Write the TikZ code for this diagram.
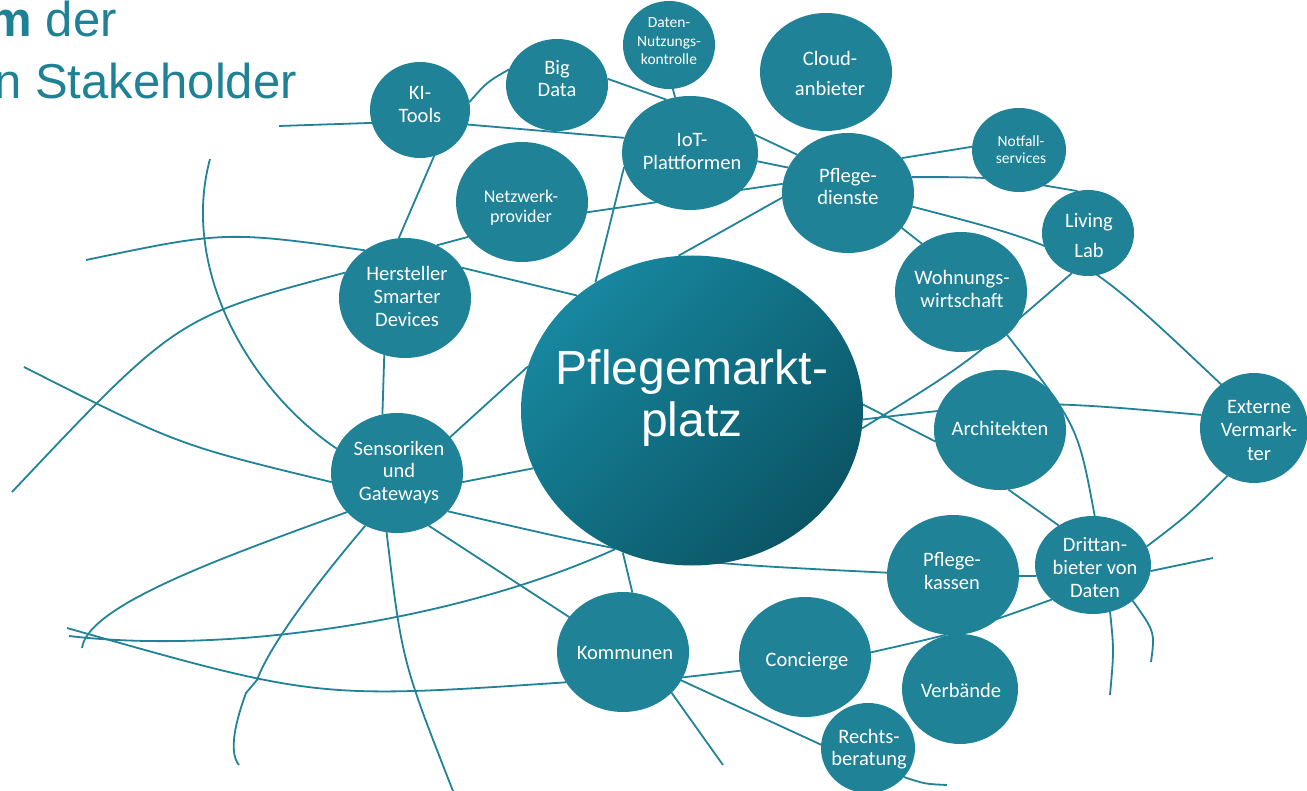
\documentclass[tikz,border=0pt]{standalone}
\usepackage{fontspec}
\setmainfont{Carlito}
\newfontfamily\arialf{Liberation Sans}
\usetikzlibrary{shapes.geometric,backgrounds}
\definecolor{nodefill}{HTML}{208296}
\definecolor{linecol}{HTML}{218398}
\definecolor{titlecol}{HTML}{1F8196}
\definecolor{mainA}{HTML}{17879F}
\definecolor{mainB}{HTML}{0B5565}
\tikzset{
  bub/.style={ellipse, fill=nodefill, inner sep=0pt, outer sep=0pt},
  lbl/.style={text=white, align=center, inner sep=0pt, font=\fontsize{20.5}{23}\selectfont},
  conn/.style={draw=linecol, line width=1.8pt},
  ttl/.style={anchor=base east, inner sep=0pt, text=titlecol, font=\arialf\fontsize{49}{49}\selectfont},
}
\begin{document}
\begin{tikzpicture}[x=1pt, y=-1pt]
\useasboundingbox (0,0) rectangle (1307,791);

% title
\node[ttl] (t1) at (117,37) {\textbf{m} der};
\node[ttl] (t2) at (297,99) {n Stakeholder};

% bubbles
\node[bub, minimum width=100pt, minimum height=96pt] (ki) at (420,110) {};
\node[bub, minimum width=102pt, minimum height=92pt] (bigdata) at (557,85) {};
\node[bub, minimum width=92pt, minimum height=88pt] (daten) at (669,45) {};
\node[bub, minimum width=132pt, minimum height=118pt] (cloud) at (826,72) {};
\node[bub, minimum width=136pt, minimum height=114pt] (iot) at (690,153) {};
\node[bub, minimum width=132pt, minimum height=120pt] (netz) at (522,202) {};
\node[bub, minimum width=132pt, minimum height=120pt] (pflege) at (848,193) {};
\node[bub, minimum width=94pt, minimum height=84pt] (notfall) at (1019,150) {};
\node[bub, minimum width=92pt, minimum height=86pt] (living) at (1088,233) {};
\node[bub, minimum width=132pt, minimum height=120pt] (wohn) at (961,292) {};
\node[bub, minimum width=132pt, minimum height=120pt] (herst) at (405,298) {};
\node[bub, minimum width=132pt, minimum height=120pt] (sens) at (397,473) {};
\node[ellipse, inner sep=0pt, minimum width=342pt, minimum height=310pt,
      top color=mainA, bottom color=mainB, shading angle=45] (main) at (692,410.5) {};
\node[bub, minimum width=132pt, minimum height=120pt] (arch) at (1000,430) {};
\node[bub, minimum width=108pt, minimum height=110pt] (ext) at (1254,428) {};
\node[bub, minimum width=116pt, minimum height=98pt] (dritt) at (1093,565) {};
\node[bub, minimum width=132pt, minimum height=120pt] (kassen) at (953,575) {};
\node[bub, minimum width=132pt, minimum height=120pt] (conc) at (805,657) {};
\node[bub, minimum width=116pt, minimum height=110pt] (verb) at (960,689) {};
\node[bub, minimum width=94pt, minimum height=90pt] (recht) at (868,748) {};
\node[bub, minimum width=132pt, minimum height=120pt] (komm) at (623,652) {};

% labels
\node[lbl] (kiT) at (420,105) {KI-\\Tools};
\node[lbl, font=\fontsize{20.5}{22}\selectfont] (bigdataT) at (557,79) {Big\\Data};
\node[lbl, font=\fontsize{15.5}{18.5}\selectfont] (datenT) at (669,41.5) {Daten-\\Nutzungs-\\kontrolle};
\node[lbl, font=\fontsize{20.5}{30}\selectfont] (cloudT) at (830,73) {Cloud-\\anbieter};
\node[lbl] (iotT) at (692,152) {IoT-\\Plattformen};
\node[lbl, font=\fontsize{18}{20}\selectfont] (netzT) at (521,207.5) {Netzwerk-\\provider};
\node[lbl, font=\fontsize{20.5}{22}\selectfont] (pflegeT) at (848,187) {Pflege-\\dienste};
\node[lbl, font=\fontsize{15.5}{16.5}\selectfont] (notfallT) at (1021,149.5) {Notfall-\\services};
\node[lbl, font=\fontsize{20.5}{30}\selectfont] (livingT) at (1089,236) {Living\\Lab};
\node[lbl] (wohnT) at (962,289) {Wohnungs-\\wirtschaft};
\node[lbl] (herstT) at (407,296) {Hersteller\\Smarter\\Devices};
\node[lbl, font=\fontsize{20.5}{22.5}\selectfont] (sensT) at (399,472.5) {Sensoriken\\und\\Gateways};
\node[lbl, font=\arialf\fontsize{48}{52}\selectfont] (mainT) at (692,398.5) {Pflegemarkt-\\platz};
\node[lbl] (archT) at (1000,428) {Architekten};
\node[lbl, font=\fontsize{20.5}{23.5}\selectfont] (extT) at (1259,430) {Externe\\Vermark-\\ter};
\node[lbl] (drittT) at (1095,568) {Drittan-\\bieter von\\Daten};
\node[lbl] (kassenT) at (952,571) {Pflege-\\kassen};
\node[lbl] (concT) at (807,661) {Concierge};
\node[lbl] (kommT) at (625,653) {Kommunen};
\node[lbl] (verbT) at (961,690.5) {Verbände};
\node[lbl, font=\fontsize{20.5}{22}\selectfont] (rechtT) at (869,749) {Rechts-\\beratung};

% free ends
\coordinate (f1) at (279,126);
\coordinate (f2) at (1213,558);
\coordinate (f3) at (1110,695);
\coordinate (f4) at (1151,662);
\coordinate (f5) at (947,785);
\coordinate (f6) at (723,765);
\coordinate (f7) at (67,628);
\coordinate (f8) at (69,636);
\coordinate (f9) at (82,648);
\coordinate (f10) at (239,765);
\coordinate (f11) at (453,791);
\coordinate (f12) at (86,260);
\coordinate (f13) at (210,159);
\coordinate (f14) at (12,492);
\coordinate (f15) at (24,367);

\begin{scope}[on background layer]
\fill[white] (0,0) rectangle (1307,791);
\draw[conn] (f1) -- (ki.195);
\draw[conn] (ki.-17) -- (iot.167);
\draw[conn] (ki.9) .. controls (487,82) .. (bigdata.162);
\draw[conn] (bigdata.7) -- (iot.114);
\draw[conn] (daten.-85) -- (iot.105);
\draw[conn] (iot.16) -- (pflege.143);
\draw[conn] (iot.-7) -- (pflege.157);
\draw[conn] (netz.-9) -- (pflege.172);
\draw[conn] (iot.192) -- (main.127);
\draw[conn] (pflege.184) -- (main.95);
\draw[conn] (pflege.33) -- (notfall.176);
\draw[conn] (pflege.14) .. controls (995,177) .. (living.104);
\draw[conn] (pflege.-12) .. controls (1079,250) .. (ext.127);
\draw[conn] (pflege.-33) -- (wohn.129);
\draw[conn] (living.248) .. controls (967,364) .. (main.-6);
\draw[conn] (wohn.-43) .. controls (1078,426) .. (dritt.88);
\draw[conn] (main.-3) .. controls (1032,400) .. (ext.166);
\draw[conn] (main.2) -- (arch.190);
\draw[conn] (arch.-82) -- (dritt.131);
\draw[conn] (ext.241) .. controls (1188,515) .. (dritt.19);
\draw[conn] (dritt.-6) -- (f2);
\draw[conn] (dritt.-70) .. controls (1114,650) .. (f3);
\draw[conn] (dritt.-42) .. controls (1155,632) .. (f4);
\draw[conn] (kassen.-1) -- (dritt.191);
\draw[conn] (sens.-37) .. controls (667,562) .. (kassen.178);
\draw[conn] (sens.34) -- (main.165);
\draw[conn] (sens.-8) -- (main.200);
\draw[conn] (sens.-59) -- (komm.147);
\draw[conn] (main.244) -- (komm.81);
\draw[conn] (komm.-23) -- (conc.192);
\draw[conn] (komm.-26) -- (recht.176);
\draw[conn] (recht.-39) .. controls (925,784) .. (f5);
\draw[conn] (komm.-40) -- (f6);
\draw[conn] (conc.4) .. controls (961,632) .. (dritt.220);
\draw[conn] (komm.208) .. controls (317,699) .. (f7);
\draw[conn] (main.241) .. controls (460,620) and (230,655) .. (f8);
\draw[conn] (sens.218) .. controls (224,557) and (88,605) .. (f9);
\draw[conn] (sens.239) .. controls (315,585) and (270,645) .. (257,680) -- (246,693)
   .. controls (236,720) and (228,752) .. (f10);
\draw[conn] (sens.260) .. controls (402,661) .. (f11);
\draw[conn] (f12) .. controls (225,231) .. (herst.130);
\draw[conn] (herst.28) -- (main.135);
\draw[conn] (f13) .. controls (180,270) and (250,390) .. (sens.158);
\draw[conn] (herst.157) .. controls (177,317) .. (f14);
\draw[conn] (f15) .. controls (178,445) .. (sens.188);
\draw[conn] (herst.250) -- (sens.104);
\draw[conn] (ki.-73) -- (herst.96);
\draw[conn] (herst.59) -- (netz.213);
\end{scope}
\end{tikzpicture}
\end{document}
